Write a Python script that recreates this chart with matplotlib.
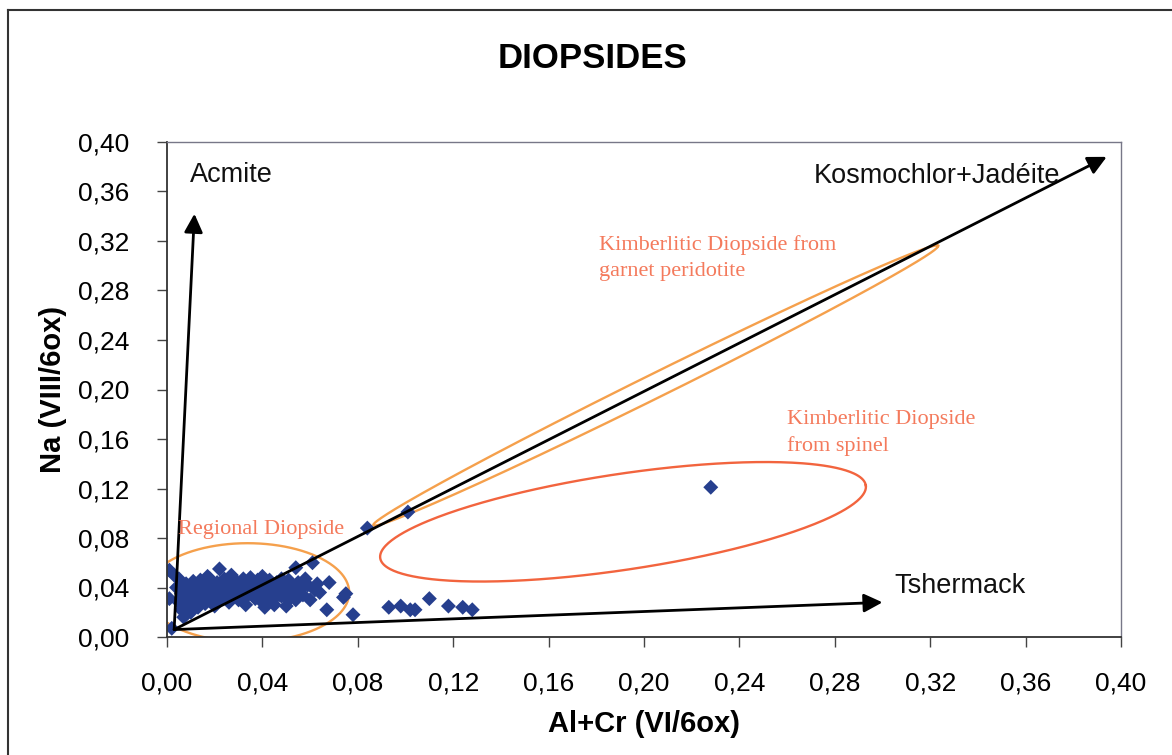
import numpy as np
import matplotlib.pyplot as plt
from matplotlib.ticker import MultipleLocator, FuncFormatter
from matplotlib.lines import Line2D

# Composition des diopsides (Al+Cr et Na, base 6 oxygenes)
al_cr = [0.001, 0.022, 0.001, 0.002, 0.005, 0.004, 0.006, 0.005, 0.006, 0.007,
         0.008, 0.009, 0.008, 0.009, 0.010, 0.011, 0.012, 0.011, 0.012, 0.013,
         0.014, 0.015, 0.014, 0.016, 0.016, 0.017, 0.018, 0.018, 0.019, 0.020,
         0.020, 0.021, 0.022, 0.023, 0.024, 0.024, 0.025, 0.026, 0.026, 0.027,
         0.028, 0.028, 0.029, 0.030, 0.030, 0.031, 0.032, 0.033, 0.033, 0.034,
         0.035, 0.035, 0.036, 0.037, 0.038, 0.038, 0.039, 0.040, 0.040, 0.041,
         0.042, 0.043, 0.043, 0.044, 0.045, 0.045, 0.046, 0.047, 0.048, 0.048,
         0.049, 0.050, 0.051, 0.051, 0.052, 0.053, 0.054, 0.054, 0.055, 0.056,
         0.057, 0.058, 0.059, 0.060, 0.061, 0.062, 0.063, 0.064, 0.067, 0.068,
         0.074, 0.075, 0.078, 0.003, 0.010, 0.013, 0.017, 0.021, 0.027, 0.032,
         0.036, 0.044, 0.050, 0.047, 0.041,
         0.084, 0.101, 0.093, 0.098, 0.102, 0.104, 0.110, 0.118, 0.124, 0.128,
         0.228]
na = [0.054, 0.055, 0.031, 0.007, 0.047, 0.040, 0.035, 0.028, 0.022, 0.016,
      0.043, 0.038, 0.031, 0.025, 0.020, 0.045, 0.041, 0.035, 0.029, 0.024,
      0.046, 0.039, 0.033, 0.027, 0.043, 0.036, 0.030, 0.047, 0.041, 0.034,
      0.025, 0.044, 0.038, 0.031, 0.047, 0.041, 0.035, 0.028, 0.044, 0.050,
      0.039, 0.033, 0.045, 0.041, 0.030, 0.036, 0.047, 0.040, 0.026, 0.034,
      0.044, 0.048, 0.038, 0.031, 0.046, 0.042, 0.035, 0.028, 0.049, 0.043,
      0.038, 0.032, 0.046, 0.040, 0.035, 0.026, 0.044, 0.039, 0.047, 0.033,
      0.042, 0.037, 0.030, 0.046, 0.041, 0.035, 0.056, 0.030, 0.044, 0.039,
      0.034, 0.047, 0.042, 0.030, 0.060, 0.038, 0.043, 0.036, 0.022, 0.044,
      0.032, 0.035, 0.018, 0.050, 0.030, 0.038, 0.049, 0.029, 0.036, 0.031,
      0.043, 0.030, 0.025, 0.034, 0.024,
      0.088, 0.101, 0.024, 0.025, 0.022, 0.022, 0.031, 0.025, 0.024, 0.022,
      0.121]

# Poles (origine commune et extremites des fleches)
pole_origin = (0.003, 0.006)
pole_names = ["Acmite", "Kosmochlor+Jadéite", "Tshermack"]
pole_tips = [(0.0115, 0.342), (0.394, 0.388), (0.300, 0.028)]
pole_label_pos = [(0.0097, 0.368), (0.271, 0.367), (0.305, 0.0355)]

# Domaines: centre, demi-axe principal, demi-axe conjugue (unites des donnees)
field_names = ["Regional Diopside",
               "Kimberlitic Diopside from\ngarnet peridotite",
               "Kimberlitic Diopside\nfrom spinel"]
field_center = [(0.0338, 0.0359), (0.2049, 0.2032), (0.1912, 0.0931)]
field_u = [(0.0426, 0.0), (0.1184, 0.1129), (0.1018, 0.0294)]
field_v = [(0.0, 0.0399), (-0.00224, 0.00866), (-0.0030, 0.0383)]
field_colors = ["#f5a04c", "#f5a04c", "#f2643e"]
field_label_pos = [(0.0046, 0.083), (0.181, 0.3245), (0.260, 0.1835)]

fig = plt.figure(figsize=(11.72, 7.55), dpi=100)
ax = fig.add_axes([167 / 1172, 1 - 637 / 755, (1121 - 167) / 1172, (637 - 142) / 755])

sans = "Liberation Sans"
serif = "Liberation Serif"

# cadre exterieur
fig.add_artist(Line2D([8 / 1172, 8 / 1172], [0, 1 - 10 / 755], color="#333333", lw=1.5))
fig.add_artist(Line2D([8 / 1172, 1], [1 - 10 / 755, 1 - 10 / 755], color="#333333", lw=1.5))

# domaines
t = np.linspace(0, 2 * np.pi, 400)
for c, u, v, col in zip(field_center, field_u, field_v, field_colors):
    xs = c[0] + u[0] * np.cos(t) + v[0] * np.sin(t)
    ys = c[1] + u[1] * np.cos(t) + v[1] * np.sin(t)
    ax.plot(xs, ys, color=col, lw=1.7, zorder=1)

# analyses
ax.scatter(al_cr, na, marker="D", s=58, color="#263f8e", edgecolors="none", zorder=2)

# fleches vers les poles
for tip in pole_tips:
    ax.annotate("", xy=tip, xytext=pole_origin,
                arrowprops=dict(arrowstyle="-|>", color="black", lw=2.0,
                                mutation_scale=28, shrinkA=0, shrinkB=0),
                zorder=3)

for name, pos in zip(pole_names, pole_label_pos):
    ax.text(pos[0], pos[1], name, fontsize=19.5, family=sans, color="#111111",
            ha="left", va="baseline", zorder=4)

for i, (name, pos) in enumerate(zip(field_names, field_label_pos)):
    ax.text(pos[0], pos[1], name, fontsize=16, family=serif, color="#f47a5c",
            ha="left", va="baseline" if i == 0 else "top", linespacing=1.45, zorder=4)

ax.set_xlim(0, 0.40)
ax.set_ylim(0, 0.40)
ax.xaxis.set_major_locator(MultipleLocator(0.04))
ax.yaxis.set_major_locator(MultipleLocator(0.04))
fmt = FuncFormatter(lambda val, pos: f"{val:.2f}".replace(".", ","))
ax.xaxis.set_major_formatter(fmt)
ax.yaxis.set_major_formatter(fmt)
ax.tick_params(axis="both", direction="out", length=7, width=1, color="#444444",
               labelsize=19)
ax.tick_params(axis="x", pad=18)
ax.tick_params(axis="y", pad=20)
for lab in ax.get_xticklabels() + ax.get_yticklabels():
    lab.set_family(sans)

for side in ["left", "bottom"]:
    ax.spines[side].set_color("#333333")
    ax.spines[side].set_linewidth(1.3)
for side in ["top", "right"]:
    ax.spines[side].set_color("#777788")
    ax.spines[side].set_linewidth(1.0)

ax.set_xlabel("Al+Cr (VI/6ox)", fontsize=21, fontweight="bold", family=sans, labelpad=10)
ax.set_ylabel("Na (VIII/6ox)", fontsize=21, fontweight="bold", family=sans, labelpad=8)
fig.text(592 / 1172, 1 - 58 / 755, "DIOPSIDES", fontsize=25, fontweight="bold",
         family=sans, ha="center", va="center")

fig.savefig("out.png", dpi=100, facecolor="white")
